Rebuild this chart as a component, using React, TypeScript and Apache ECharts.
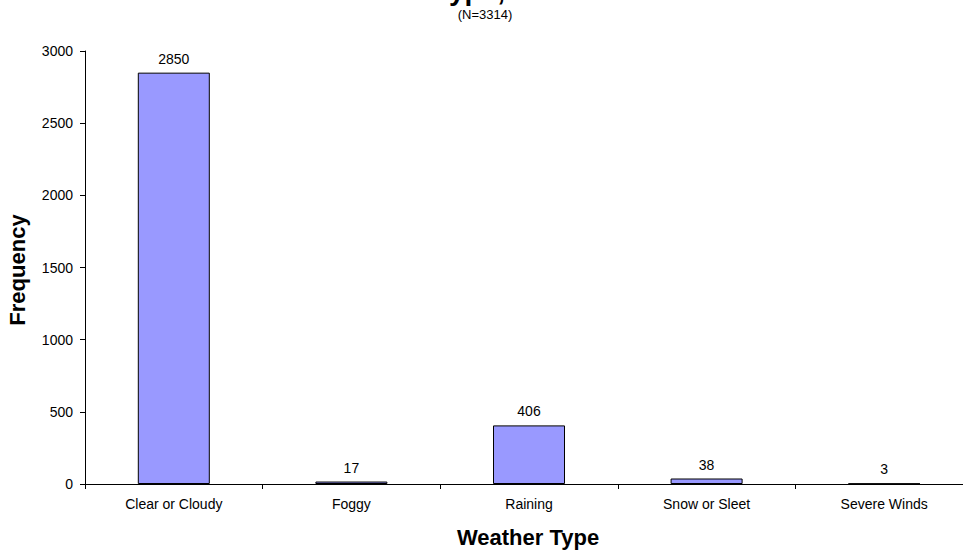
import React, { useEffect, useRef } from "react";
import * as echarts from "echarts";

const categories = ["Clear or Cloudy", "Foggy", "Raining", "Snow or Sleet", "Severe Winds"];
const frequencies = [2850, 17, 406, 38, 3];
const yTicks = { min: 0, max: 3000, interval: 500 };

// The plot area runs a little past the right edge of the visible page,
// so the chart canvas is wider than the 963px frame that clips it.
const FRAME_W = 963;
const FRAME_H = 552;
const CANVAS_W = 990;

export default function App() {
  const ref = useRef<HTMLDivElement>(null);

  useEffect(() => {
    if (!ref.current) return;
    const chart = echarts.init(ref.current, undefined, { renderer: "svg" });
    const font = "'Liberation Sans', Arial, sans-serif";
    chart.setOption({
      animation: false,
      backgroundColor: "#ffffff",
      grid: { left: 85, top: 51, width: 888, height: 433, containLabel: false },
      graphic: [
        {
          type: "text",
          x: 505,
          y: 4,
          style: {
            text: "Weather Type,",
            font: `bold 28px ${font}`,
            fill: "#000",
            align: "right",
            verticalAlign: "bottom",
          },
        },
        {
          type: "text",
          x: 485,
          y: 14,
          style: {
            text: "(N=3314)",
            font: `13px ${font}`,
            fill: "#000",
            align: "center",
            verticalAlign: "middle",
          },
        },
        {
          type: "text",
          x: 528,
          y: 537,
          style: {
            text: "Weather Type",
            font: `bold 22px ${font}`,
            fill: "#000",
            align: "center",
            verticalAlign: "middle",
          },
        },
        {
          type: "text",
          x: 17,
          y: 270,
          rotation: Math.PI / 2,
          style: {
            text: "Frequency",
            font: `bold 22px ${font}`,
            fill: "#000",
            align: "center",
            verticalAlign: "middle",
          },
        },
      ],
      xAxis: {
        type: "category",
        data: categories,
        axisLine: { lineStyle: { color: "#000", width: 1 } },
        axisTick: { show: true, length: 5, alignWithLabel: false, lineStyle: { color: "#000" } },
        axisLabel: { color: "#000", fontFamily: font, fontSize: 14, margin: 13, interval: 0 },
        splitLine: { show: false },
      },
      yAxis: {
        type: "value",
        min: yTicks.min,
        max: yTicks.max,
        interval: yTicks.interval,
        axisLine: { show: true, lineStyle: { color: "#000", width: 1 } },
        axisTick: { show: true, length: 5, lineStyle: { color: "#000" } },
        axisLabel: {
          color: "#000",
          fontFamily: font,
          fontSize: 14,
          margin: 12,
          formatter: (v: number) => String(v),
        },
        splitLine: { show: false },
      },
      series: [
        {
          type: "bar",
          data: frequencies,
          barWidth: 72,
          itemStyle: { color: "#9999ff", borderColor: "#000", borderWidth: 1 },
          label: {
            show: true,
            position: "top",
            distance: 7,
            color: "#000",
            fontFamily: font,
            fontSize: 14,
          },
        },
      ],
    });
    return () => chart.dispose();
  }, []);

  return (
    <div
      style={{
        position: "fixed",
        left: 0,
        top: 0,
        width: FRAME_W,
        height: FRAME_H,
        overflow: "hidden",
        background: "#fff",
      }}
    >
      <div ref={ref} style={{ width: CANVAS_W, height: FRAME_H }} />
    </div>
  );
}
